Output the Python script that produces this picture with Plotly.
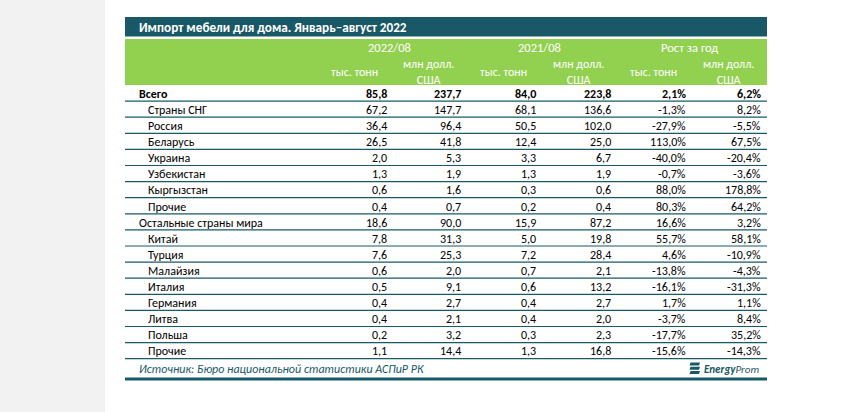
import plotly.graph_objects as go

# ---------------- data ----------------
title = "Импорт мебели для дома. Январь–август 2022"
periods = ["2022/08", "2021/08", "Рост за год"]
units = ["тыс. тонн", "млн долл.<br>США"]
row_labels = ["Всего", "Страны СНГ", "Россия", "Беларусь", "Украина", "Узбекистан",
              "Кыргызстан", "Прочие", "Остальные страны мира", "Китай", "Турция",
              "Малайзия", "Италия", "Германия", "Литва", "Польша", "Прочие"]
row_level = [0, 1, 1, 1, 1, 1, 1, 1, 0, 1, 1, 1, 1, 1, 1, 1, 1]
row_bold = [True] + [False] * 16
t2022 = [85.8, 67.2, 36.4, 26.5, 2.0, 1.3, 0.6, 0.4, 18.6, 7.8, 7.6, 0.6, 0.5, 0.4, 0.4, 0.2, 1.1]
usd2022 = [237.7, 147.7, 96.4, 41.8, 5.3, 1.9, 1.6, 0.7, 90.0, 31.3, 25.3, 2.0, 9.1, 2.7, 2.1, 3.2, 14.4]
t2021 = [84.0, 68.1, 50.5, 12.4, 3.3, 1.3, 0.3, 0.2, 15.9, 5.0, 7.2, 0.7, 0.6, 0.4, 0.4, 0.3, 1.3]
usd2021 = [223.8, 136.6, 102.0, 25.0, 6.7, 1.9, 0.6, 0.4, 87.2, 19.8, 28.4, 2.1, 13.2, 2.7, 2.0, 2.3, 16.8]
growth_t = [2.1, -1.3, -27.9, 113.0, -40.0, -0.7, 88.0, 80.3, 16.6, 55.7, 4.6, -13.8, -16.1, 1.7, -3.7, -17.7, -15.6]
growth_usd = [6.2, 8.2, -5.5, 67.5, -20.4, -3.6, 178.8, 64.2, 3.2, 58.1, -10.9, -4.3, -31.3, 1.1, 8.4, 35.2, -14.3]
source = "Источник: Бюро национальной статистики АСПиР РК"
brand_bold, brand_rest = "Energy", "Prom"

# ---------------- style ----------------
DARK = "#195866"
GREEN = "#92D050"
GRAY = "#F2F2F2"
FONT = "Calibri, Carlito, Lato, 'Liberation Sans', sans-serif"
FS = 12

W, H = 868, 412
TL, TR = 125, 767
col_right = [389, 463, 538, 613, 688, 763]
row_top0, row_h = 85.0, 16.1


def fmt(v, pct=False):
    s = f"{v:.1f}".replace(".", ",")
    return s + ("%" if pct else "")


columns = [(t2022, False), (usd2022, False), (t2021, False), (usd2021, False),
           (growth_t, True), (growth_usd, True)]

shapes = []
ann = []

# background gray strip
shapes.append(dict(type="rect", xref="x", yref="y", x0=0, x1=105, y0=0, y1=H,
                   fillcolor=GRAY, line_width=0, layer="below"))
# title bar
shapes.append(dict(type="rect", xref="x", yref="y", x0=TL, x1=TR, y0=17, y1=36.5,
                   fillcolor=DARK, line_width=0, layer="below"))
ann.append(dict(x=137, y=27, xref="x", yref="y", text="<b>" + title + "</b>",
                showarrow=False, xanchor="left", yanchor="middle",
                font=dict(family=FONT, size=13.2, color="white")))
# green header
shapes.append(dict(type="rect", xref="x", yref="y", x0=TL, x1=TR, y0=39, y1=85,
                   fillcolor=GREEN, line_width=0, layer="below"))
for i, p in enumerate(periods):
    cx = (col_right[2 * i] - 73 + col_right[2 * i + 1]) / 2
    ann.append(dict(x=cx, y=47.5, xref="x", yref="y", text=p, showarrow=False,
                    xanchor="center", yanchor="middle",
                    font=dict(family=FONT, size=12.5, color="white")))
    for j, u in enumerate(units):
        ann.append(dict(x=col_right[2 * i + j] - 35, y=71.5, xref="x", yref="y",
                        text=u, showarrow=False, xanchor="center", yanchor="middle",
                        font=dict(family=FONT, size=12, color="white")))

# body rows
for r, lab in enumerate(row_labels):
    top = row_top0 + r * row_h
    cy = top + row_h / 2 + 0.8
    b = row_bold[r]
    ann.append(dict(x=137 if row_level[r] == 0 else 146, y=cy, xref="x", yref="y",
                    text=("<b>%s</b>" % lab) if b else lab, showarrow=False,
                    xanchor="left", yanchor="middle",
                    font=dict(family=FONT, size=FS, color="black")))
    for c, (vals, pct) in enumerate(columns):
        t = fmt(vals[r], pct)
        ann.append(dict(x=col_right[c], y=cy, xref="x", yref="y",
                        text=("<b>%s</b>" % t) if b else t, showarrow=False,
                        xanchor="right", yanchor="middle",
                        font=dict(family=FONT, size=FS, color="black")))
    yb = top + row_h
    shapes.append(dict(type="line", xref="x", yref="y", x0=TL, x1=TR, y0=yb, y1=yb,
                       line=dict(color=DARK, width=1.2)))

# footer
ann.append(dict(x=137, y=369, xref="x", yref="y", text="<i>" + source + "</i>",
                showarrow=False, xanchor="left", yanchor="middle",
                font=dict(family=FONT, size=FS, color=DARK)))
ann.append(dict(x=761, y=369, xref="x", yref="y",
                text="<b><i>%s</i></b><i>%s</i>" % (brand_bold, brand_rest),
                showarrow=False, xanchor="right", yanchor="middle",
                font=dict(family=FONT, size=11, color=DARK)))
# logo icon: three slanted bars
for k in range(3):
    y0 = 362.5 + k * 4.3
    shapes.append(dict(type="path", xref="x", yref="y",
                       path="M %f %f L %f %f L %f %f L %f %f Z" % (
                           690.5, y0, 700, y0, 699, y0 + 3, 689.5, y0 + 3),
                       fillcolor=DARK, line_width=0))
shapes.append(dict(type="line", xref="x", yref="y", x0=TL, x1=TR, y0=379, y1=379,
                   line=dict(color=DARK, width=3)))

fig = go.Figure()
fig.add_trace(go.Scatter(x=[0, W], y=[0, H], mode="markers",
                         marker=dict(opacity=0), hoverinfo="skip", showlegend=False))
fig.update_layout(
    width=W, height=H, margin=dict(l=0, r=0, t=0, b=0),
    paper_bgcolor="white", plot_bgcolor="white",
    xaxis=dict(range=[0, W], visible=False, fixedrange=True),
    yaxis=dict(range=[H, 0], visible=False, fixedrange=True),
    shapes=shapes, annotations=ann, showlegend=False,
)
fig.write_html("out.html", config={"displayModeBar": False},
               post_script="document.body.style.margin='0';document.body.style.overflow='hidden';")
